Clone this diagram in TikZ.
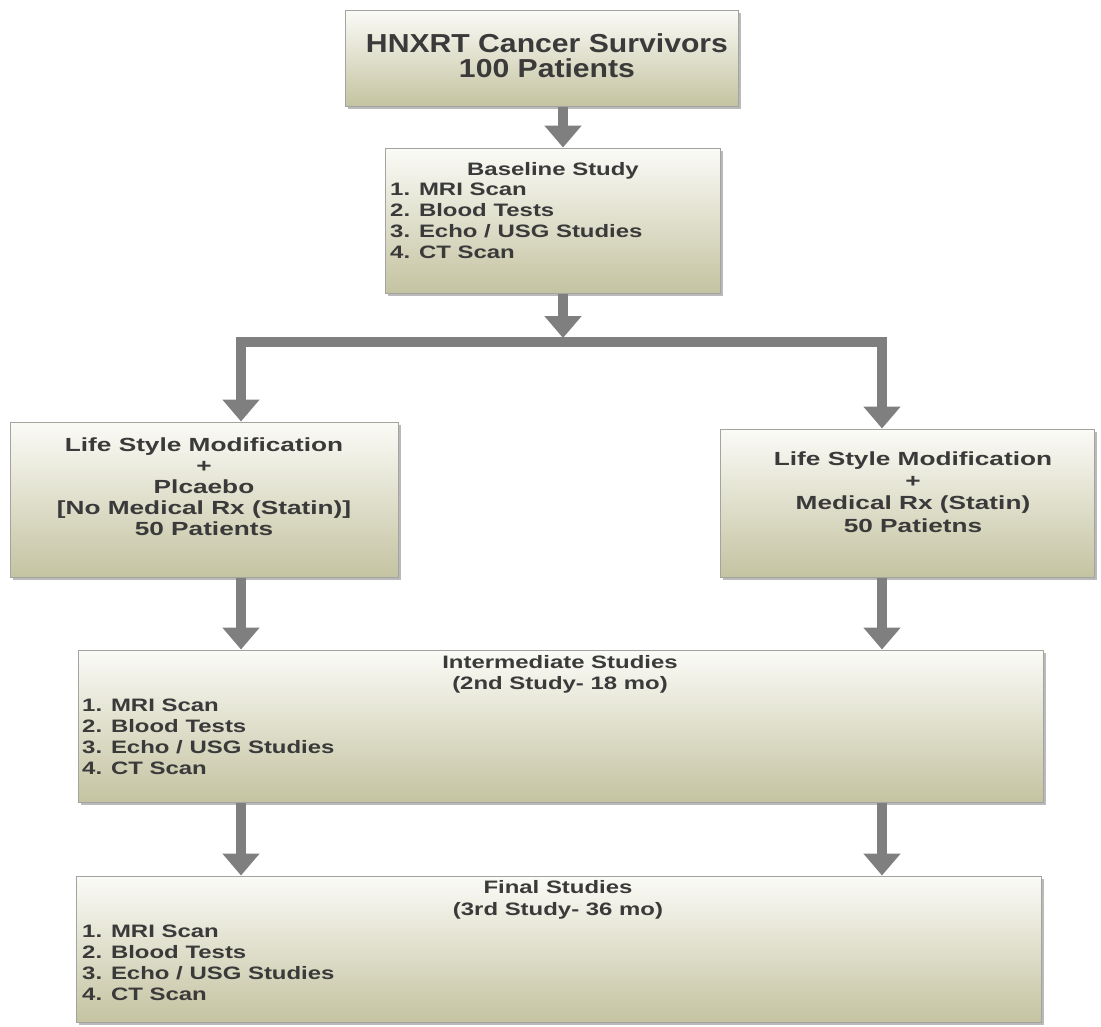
\documentclass[tikz,border=0pt]{standalone}
\usepackage{fontspec}
\setmainfont{Liberation Sans}
\newfontfamily\ttlfont[FakeStretch=1.16]{Liberation Sans}
\newfontfamily\bodyfont[FakeStretch=1.33]{Liberation Sans}
\newfontfamily\armfont[FakeStretch=1.38]{Liberation Sans}
\usepackage{xcolor}
\usepackage{tikz}
\usetikzlibrary{arrows.meta,positioning,shadows}
\definecolor{boxtop}{HTML}{FBFBF7}
\definecolor{boxbot}{HTML}{C4C3A1}
\definecolor{boxline}{HTML}{A3A3A0}
\definecolor{arrgray}{HTML}{7F7F7F}
\definecolor{txtc}{HTML}{3A3A3A}
\tikzset{
  box/.style={draw=boxline,line width=1pt,top color=boxtop,bottom color=boxbot,inner sep=0pt,
    drop shadow={shadow xshift=3pt,shadow yshift=-3pt,opacity=.45,fill=black!60}},
  ttl/.style={text=txtc,inner sep=0pt,font=\ttlfont\bfseries\fontsize{26pt}{26pt}\selectfont},
  txt/.style={text=txtc,inner sep=0pt,font=\bodyfont\bfseries\fontsize{18pt}{21pt}\selectfont},
  txtb/.style={txt,font=\armfont\bfseries\fontsize{19pt}{22pt}\selectfont},
  arr/.style={draw=arrgray,line width=9.5pt,-{Triangle[width=36pt,length=22pt]}},
  shaft/.style={draw=arrgray,line width=9.5pt,line cap=rect}
}
\begin{document}
\begin{tikzpicture}[x=1pt,y=-1pt]
\useasboundingbox (0,0) rectangle (1101,1026);
% boxes
\node[box,minimum width=393pt,minimum height=96pt] (top) at (541.5,58) {};
\node[box,minimum width=335pt,minimum height=145pt] (base) at (552.5,220.5) {};
\node[box,minimum width=388pt,minimum height=155pt] (plac) at (204,499.5) {};
\node[box,minimum width=374pt,minimum height=148pt] (stat) at (907,503) {};
\node[box,minimum width=965pt,minimum height=152pt] (inter) at (560.5,726) {};
\node[box,minimum width=965pt,minimum height=146pt] (final) at (558.5,949) {};
% texts
\node[ttl,anchor=base] (ttl1) at (547,52) {HNXRT Cancer Survivors};
\node[ttl,anchor=base] (ttl2) at (547,77) {100 Patients};
\node[txt,anchor=base] (basehd) at (553,175) {Baseline Study};
\foreach \t [count=\i] in {MRI Scan,Blood Tests,Echo / USG Studies,CT Scan}
  \node[txt,anchor=base west] (base\i) at (390,{175+20.8*\i}) {\i. \t};
\foreach \t [count=\i] in {Life Style Modification,+,Plcaebo,{[No Medical Rx (Statin)]},50 Patients}
  \node[txtb,anchor=base] (plac\i) at (204,{430+21*\i}) {\t};
\foreach \t [count=\i] in {Life Style Modification,+,Medical Rx (Statin),50 Patietns}
  \node[txtb,anchor=base] (stat\i) at (913,{443+22.3*\i}) {\t};
\node[txt,anchor=base] (interhd1) at (560,668) {Intermediate Studies};
\node[txt,anchor=base] (interhd2) at (560,689) {(2nd Study- 18 mo)};
\foreach \t [count=\i] in {MRI Scan,Blood Tests,Echo / USG Studies,CT Scan}
  \node[txt,anchor=base west] (inter\i) at (82,{690+21*\i}) {\i. \t};
\node[txt,anchor=base] (finalhd1) at (558,893) {Final Studies};
\node[txt,anchor=base] (finalhd2) at (558,915) {(3rd Study- 36 mo)};
\foreach \t [count=\i] in {MRI Scan,Blood Tests,Echo / USG Studies,CT Scan}
  \node[txt,anchor=base west] (final\i) at (82,{916+21*\i}) {\i. \t};
% connectors
\coordinate (split) at (563,342);
\coordinate (lsplit) at (241,342);
\coordinate (rsplit) at (882,342);
\draw[arr] (top.south -| split) -- (base.north -| split);
\draw[shaft] (lsplit) -- (rsplit);
\draw[arr,shorten >=4pt] (base.south -| split) -- (split);
\draw[arr] (lsplit) -- (lsplit |- plac.north);
\draw[arr] (rsplit) -- (rsplit |- stat.north);
\draw[arr] (plac.south -| lsplit) -- (inter.north -| lsplit);
\draw[arr] (stat.south -| rsplit) -- (inter.north -| rsplit);
\draw[arr] (inter.south -| lsplit) -- (final.north -| lsplit);
\draw[arr] (inter.south -| rsplit) -- (final.north -| rsplit);
\end{tikzpicture}
\end{document}
